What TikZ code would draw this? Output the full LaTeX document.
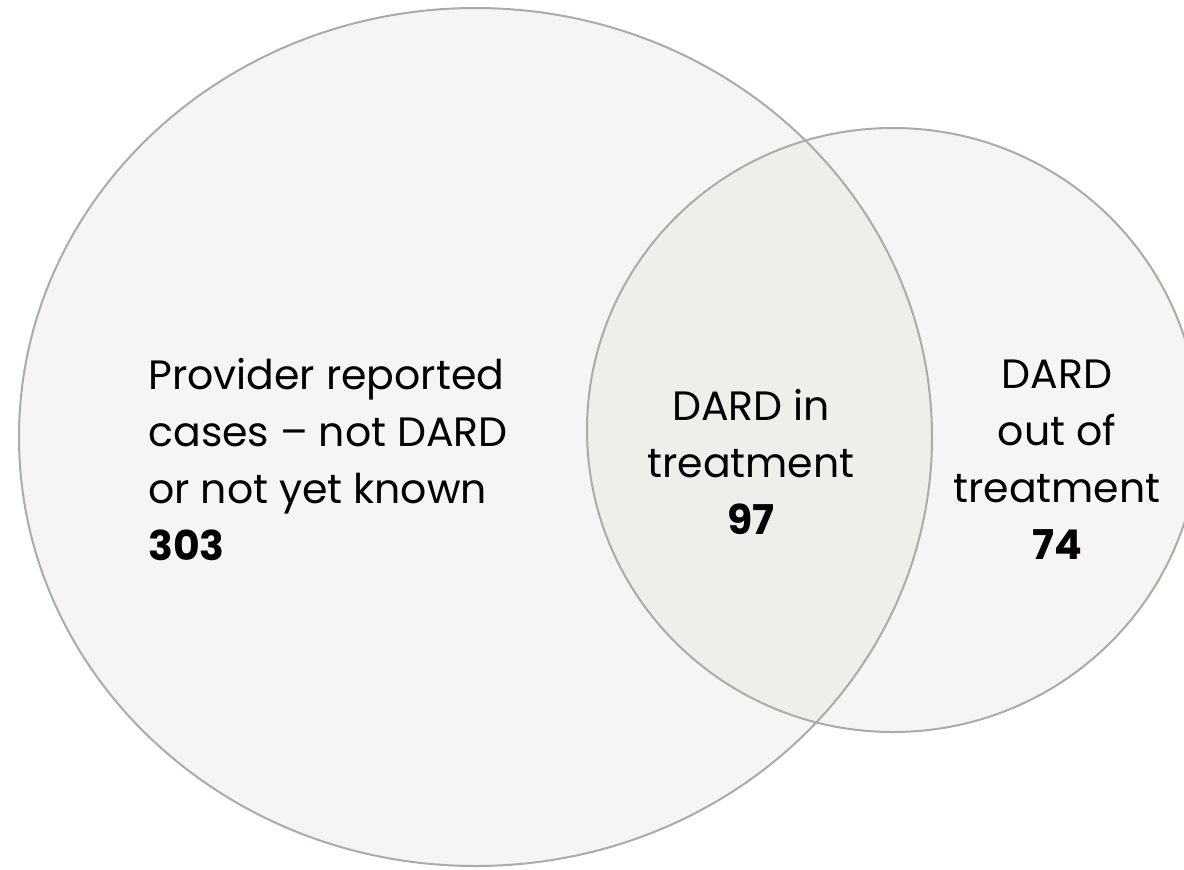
\documentclass[tikz,border=0pt]{standalone}
\usepackage{fontspec}
\setmainfont{Poppins}
\definecolor{vfill}{HTML}{F6F5F3}
\definecolor{vmid}{HTML}{EFEEEB}
\definecolor{vline}{HTML}{ABABA7}
\tikzset{
  setbox/.style={line width=1pt, draw=vline},
  lbl/.style={font=\fontsize{20.5}{28.5}\selectfont, inner sep=0pt, text=black}
}
\newcommand{\numtxt}[1]{{\bfseries #1}}
\begin{document}
\begin{tikzpicture}[x=0.5pt,y=-0.5pt]
\clip (0,0) rectangle (1184,869);
\fill[white] (0,0) rectangle (1184,869);
\coordinate (bigc) at (475.5,437);
\coordinate (smallc) at (893,430);
\fill[vfill] (bigc) ellipse [x radius=228.25pt, y radius=214.5pt];
\fill[vfill] (smallc) ellipse [x radius=153pt, y radius=151pt];
\begin{scope}
\clip (bigc) ellipse [x radius=228.25pt, y radius=214.5pt];
\fill[vmid] (smallc) ellipse [x radius=153pt, y radius=151pt];
\end{scope}
\draw[setbox] (bigc) ellipse [x radius=228.25pt, y radius=214.5pt];
\draw[setbox] (smallc) ellipse [x radius=153pt, y radius=151pt];
\node[lbl, anchor=west, align=left] (left) at (148,460)
  {Provider reported\\cases -- not DARD\\or not yet known\\\numtxt{303}};
\node[lbl, align=center] (mid) at (751,461.5)
  {DARD in\\treatment\\\numtxt{97}};
\node[lbl, align=center] (right) at (1057,460)
  {DARD\\out of\\treatment\\\numtxt{74}};
\end{tikzpicture}
\end{document}
